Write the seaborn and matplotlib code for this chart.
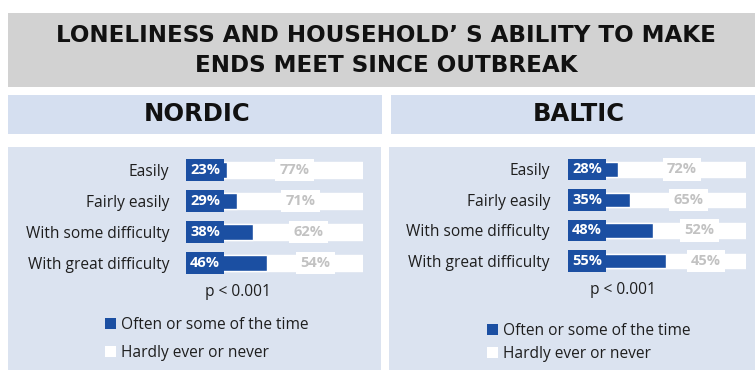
import matplotlib
matplotlib.use("Agg")
import matplotlib.pyplot as plt
from matplotlib.patches import Rectangle, Patch
import seaborn as sns
import pandas as pd

# Survey data: share of people feeling lonely by ability to make ends meet
categories = ["Easily", "Fairly easily", "With some difficulty", "With great difficulty"]
nordic_often = [23, 29, 38, 46]
nordic_hardly = [77, 71, 62, 54]
baltic_often = [28, 35, 48, 55]
baltic_hardly = [72, 65, 52, 45]
series_labels = ["Often or some of the time", "Hardly ever or never"]
region_names = ["NORDIC", "BALTIC"]
title_text = "LONELINESS AND HOUSEHOLD\u2019 S ABILITY TO MAKE\nENDS MEET SINCE OUTBREAK"
p_text = "p < 0.001"

BLUE = "#1b4fa2"
PANEL = "#dbe3f0"
HEADER = "#d5dff0"
TITLE_BG = "#d2d2d2"
GRAY_TXT = "#c2c2c2"
INK = "#1e1e1e"
BODY_SIZE = 11.2

sns.set_style("white")
plt.rcParams["font.family"] = ["Open Sans", "DejaVu Sans"]

W, H = 755, 370
fig = plt.figure(figsize=(W / 100, H / 100), dpi=100)
fig.patch.set_facecolor("white")


def box(x0, y0, x1, y1, color):
    fig.patches.append(Rectangle((x0 / W, 1 - y1 / H), (x1 - x0) / W, (y1 - y0) / H,
                                 transform=fig.transFigure, facecolor=color,
                                 edgecolor="none", zorder=-5))


def fx(x):
    return x / W


def fy(y):
    return 1 - y / H


# background blocks
box(8, 13, 755, 87, TITLE_BG)
box(8, 95, 382, 134, HEADER)
box(391, 95, 755, 134, HEADER)
box(8, 147, 381, 370, PANEL)
box(389, 147, 755, 370, PANEL)

heading = dict(ha="center", va="center", fontweight="bold", color="#111111",
               family=["DejaVu Sans"])
fig.text(fx(386), fy(50.5), title_text, fontsize=16.6, linespacing=1.42, **heading)
fig.text(fx(197), fy(114), region_names[0], fontsize=17.5, **heading)
fig.text(fx(579), fy(114), region_names[1], fontsize=17.5, **heading)


def draw_panel(rect, often, hardly, pad):
    x0, y0, x1, y1 = rect
    ax = fig.add_axes([fx(x0), fy(y1), (x1 - x0) / W, (y1 - y0) / H])
    ax.patch.set_visible(False)
    df = pd.DataFrame({"category": categories, "often": often,
                       "total": [o + h for o, h in zip(often, hardly)]})
    sns.barplot(data=df, y="category", x="total", color="white", width=0.49,
                saturation=1, ax=ax)
    sns.barplot(data=df, y="category", x="often", color=BLUE, width=0.49,
                saturation=1, ax=ax)
    ax.set_xlim(0, 100)
    ax.set_ylim(3.5, -0.5)
    for s in ax.spines.values():
        s.set_visible(False)
    ax.xaxis.set_visible(False)
    ax.set_ylabel("")
    ax.tick_params(axis="y", length=0, pad=pad, labelsize=BODY_SIZE, labelcolor=INK)
    for i, (o, h) in enumerate(zip(often, hardly)):
        ax.text(2.3, i, f"{o}%", ha="left", va="center", color="white",
                fontsize=10.5, fontweight="bold",
                bbox=dict(boxstyle="square,pad=0.25", fc=BLUE, ec="none"))
        ax.text(o + h / 2, i, f"{h}%", ha="center", va="center", color=GRAY_TXT,
                fontsize=10.5, fontweight="bold",
                bbox=dict(boxstyle="square,pad=0.3", fc="white", ec="none"))
    return ax


draw_panel((186, 154.5, 363, 278.5), nordic_often, nordic_hardly, 12)
draw_panel((568, 154.25, 746, 276.25), baltic_often, baltic_hardly, 13)

fig.text(fx(238), fy(292), p_text, ha="center", va="center", fontsize=BODY_SIZE, color=INK)
fig.text(fx(623), fy(290), p_text, ha="center", va="center", fontsize=BODY_SIZE, color=INK)

handles = [Patch(facecolor=BLUE, edgecolor="none", label=series_labels[0]),
           Patch(facecolor="white", edgecolor="none", label=series_labels[1])]
for (lx, ly, spacing) in [(105, 317, 0.78), (487, 323, 0.45)]:
    fig.legend(handles=handles, loc="upper left", bbox_to_anchor=(fx(lx), fy(ly)),
               frameon=False, fontsize=BODY_SIZE, handlelength=0.7, handleheight=0.7,
               handletextpad=0.3, labelspacing=spacing, borderpad=0,
               borderaxespad=0, labelcolor=INK)

fig.savefig("out.png", dpi=100, facecolor="white")
